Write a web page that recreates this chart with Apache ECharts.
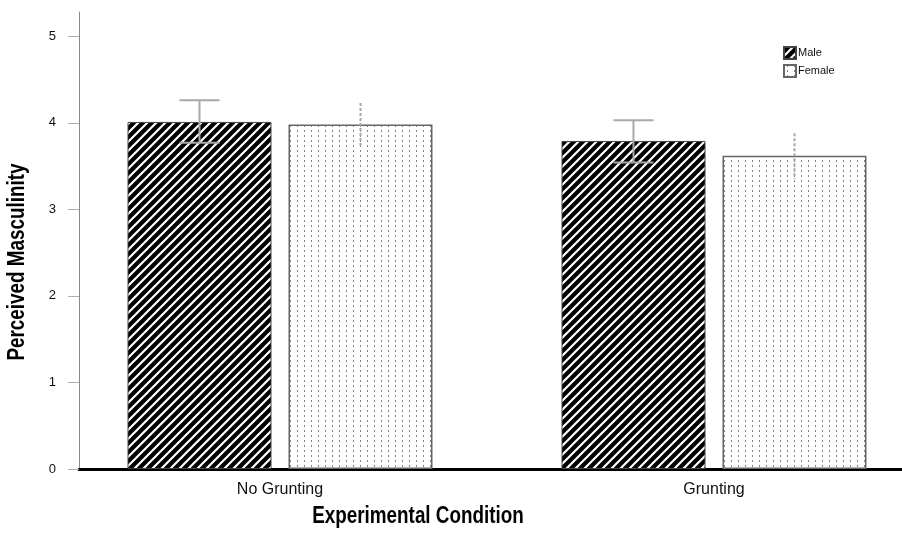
<!DOCTYPE html>
<html>
<head>
<meta charset="utf-8">
<title>Perceived Masculinity by Experimental Condition</title>
<script src="https://cdn.jsdelivr.net/npm/echarts@6/dist/echarts.min.js"></script>
<style>
  html, body { margin: 0; padding: 0; background: #fff; }
  #chart { width: 902px; height: 540px; }
</style>
</head>
<body>
<div id="chart"></div>
<script>
// ---- data ----
const categories = ['No Grunting', 'Grunting'];
const maleMeans = [4.01, 3.79];
const femaleMeans = [3.98, 3.62];
// error bar ends (lower, upper)
const maleLow = [3.77, 3.54];
const maleHigh = [4.26, 4.03];
const femaleLow = [3.72, 3.35];
const femaleHigh = [4.23, 3.88];
const yTicks = [0, 1, 2, 3, 4, 5];

// ---- layout constants ----
const BAR_W = 144;
const BAR_GAP = 17;
const Y_MAX = 5.28;
const FONT = '"Liberation Sans", Arial, sans-serif';
const NARROW = 0.82; // horizontal squeeze for the condensed axis titles

// hatched fill: black with white "/" stripes
function makeStripePattern() {
  const c = document.createElement('canvas');
  c.width = 9; c.height = 9;
  const ctx = c.getContext('2d');
  ctx.fillStyle = '#000';
  ctx.fillRect(0, 0, 9, 9);
  ctx.strokeStyle = '#fff';
  ctx.lineWidth = 2.2;
  ctx.beginPath();
  ctx.moveTo(-1, 10); ctx.lineTo(10, -1);
  ctx.moveTo(-1, 1); ctx.lineTo(1, -1);
  ctx.moveTo(8, 10); ctx.lineTo(10, 8);
  ctx.stroke();
  return c;
}

// dotted fill: white with columns of short grey dashes
function makeDotPattern() {
  const c = document.createElement('canvas');
  c.width = 7; c.height = 5;
  const ctx = c.getContext('2d');
  ctx.fillStyle = '#fff';
  ctx.fillRect(0, 0, 7, 5);
  ctx.fillStyle = '#858585';
  ctx.fillRect(3, 0, 1, 2);
  return c;
}

const stripeFill = { image: makeStripePattern(), repeat: 'repeat' };
const dotFill = { image: makeDotPattern(), repeat: 'repeat' };

function errData(low, high) {
  return categories.map((_, i) => [i, low[i], high[i]]);
}

// error bars placed at the centre of the matching bar
function errorBarRenderer(side, dashed, capHalf) {
  return function (params, api) {
    const cat = api.value(0);
    const lo = api.coord([cat, api.value(1)]);
    const hi = api.coord([cat, api.value(2)]);
    const x = lo[0] + side * (BAR_W + BAR_GAP) / 2;
    const style = { stroke: '#a8a8a8', lineWidth: 2, lineDash: dashed ? [3, 2] : null };
    const children = [
      { type: 'line', shape: { x1: x, y1: hi[1], x2: x, y2: lo[1] }, style }
    ];
    if (capHalf > 0) {
      children.push({ type: 'line', shape: { x1: x - capHalf, y1: hi[1], x2: x + capHalf, y2: hi[1] }, style });
      children.push({ type: 'line', shape: { x1: x - capHalf, y1: lo[1], x2: x + capHalf, y2: lo[1] }, style });
    }
    return { type: 'group', children };
  };
}

const chart = echarts.init(document.getElementById('chart'), null, { renderer: 'canvas' });

chart.setOption({
  animation: false,
  backgroundColor: '#fff',
  textStyle: { fontFamily: FONT },
  grid: [
    // plotting area for the bars (category bands)
    { left: 63, top: 12, width: 868, bottom: 71, outerBoundsMode: 'none' },
    // frame carrying the visible axes
    { left: 79, top: 12, right: 0, bottom: 71, outerBoundsMode: 'none' }
  ],
  legend: {
    data: ['Male', 'Female'],
    orient: 'vertical',
    left: 778,
    top: 41,
    itemWidth: 12,
    itemHeight: 12,
    itemGap: 4,
    icon: 'rect',
    textStyle: { fontFamily: FONT, fontSize: 11, color: '#111', padding: [0, 0, 0, -3] }
  },
  xAxis: [
    {
      type: 'category', gridIndex: 0, data: categories,
      axisLine: { show: false }, axisTick: { show: false },
      axisLabel: { fontFamily: FONT, fontSize: 16, color: '#111', margin: 13 }
    },
    {
      type: 'category', gridIndex: 1, data: categories,
      axisLine: { lineStyle: { color: '#000', width: 3 } },
      axisTick: { show: false }, axisLabel: { show: false }
    }
  ],
  yAxis: [
    { type: 'value', gridIndex: 0, min: 0, max: Y_MAX, show: false, splitLine: { show: false } },
    {
      type: 'value', gridIndex: 1, min: 0, max: Y_MAX, interval: 1,
      splitLine: { show: false },
      axisLine: { show: true, lineStyle: { color: '#8a8a8a', width: 1 } },
      axisTick: { show: true, length: 11, lineStyle: { color: '#b0b0b0' }, customValues: yTicks },
      axisLabel: { fontFamily: FONT, fontSize: 13, color: '#111', margin: 23, customValues: yTicks }
    }
  ],
  graphic: [
    {
      type: 'text', x: 18, y: 262,
      rotation: Math.PI / 2, scaleX: NARROW,
      style: {
        text: 'Perceived Masculinity', font: 'bold 23px ' + FONT, fill: '#000',
        align: 'center', verticalAlign: 'middle'
      }
    },
    {
      type: 'text', x: 418, y: 517, scaleX: NARROW,
      style: {
        text: 'Experimental Condition', font: 'bold 23px ' + FONT, fill: '#000',
        align: 'center', verticalAlign: 'middle'
      }
    }
  ],
  series: [
    {
      name: 'Male', type: 'bar', xAxisIndex: 0, yAxisIndex: 0,
      data: maleMeans, barWidth: BAR_W, barGap: (BAR_GAP / BAR_W * 100).toFixed(1) + '%',
      itemStyle: { color: stripeFill, borderColor: '#444', borderWidth: 1 }
    },
    {
      name: 'Female', type: 'bar', xAxisIndex: 0, yAxisIndex: 0,
      data: femaleMeans, barWidth: BAR_W,
      itemStyle: { color: dotFill, borderColor: '#666', borderWidth: 1.5 }
    },
    {
      type: 'custom', xAxisIndex: 0, yAxisIndex: 0, z: 5,
      data: errData(maleLow, maleHigh),
      renderItem: errorBarRenderer(-1, false, 20), silent: true
    },
    {
      type: 'custom', xAxisIndex: 0, yAxisIndex: 0, z: 5,
      data: errData(femaleLow, femaleHigh),
      renderItem: errorBarRenderer(1, true, 0), silent: true
    }
  ]
});
</script>
</body>
</html>
